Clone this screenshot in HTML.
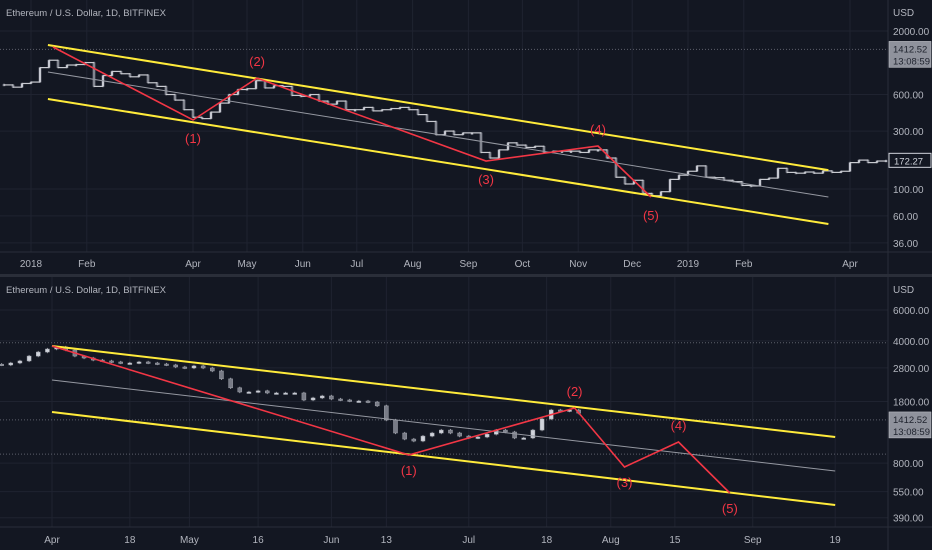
<!DOCTYPE html>
<html><head><meta charset="utf-8">
<style>
html,body{margin:0;padding:0;background:#131722;}
svg{display:block;}
text{font-family:"Liberation Sans",sans-serif;}
</style></head>
<body>
<svg id="chart" width="932" height="550" viewBox="0 0 932 550" xmlns="http://www.w3.org/2000/svg">
<rect x="0" y="0" width="932" height="550" fill="#131722"/>
<g id="top"></g>
<g id="bot"></g>
</svg>
<script>
// ---------- TOP PANEL DATA (2018-2019) ----------
const topStartDay = -15;           // days from 2018-01-01
const topStepDays = 5;
const topCloses = [720,690,740,760,1000,1150,1000,1050,1060,1100,700,860,930,890,840,870,750,700,600,540,450,390,380,430,510,600,660,670,780,680,710,700,590,580,600,530,500,530,450,450,470,440,450,460,470,450,410,360,280,300,280,290,290,200,180,210,240,230,220,225,200,205,205,205,200,210,210,180,125,110,118,92,88,95,120,130,140,155,125,124,118,115,107,106,120,123,148,137,135,138,135,141,137,140,165,173,165,170,172];
const topPriceTicks = [2000,600,300,100,60,36];
const topPriceLabels = ["2000.00","600.00","300.00","100.00","60.00","36.00"];
const topTimeDays = [0,31,90,120,151,181,212,243,273,304,334,365,396,455];
const topTimeLabels = ["2018","Feb","Apr","May","Jun","Jul","Aug","Sep","Oct","Nov","Dec","2019","Feb","Apr"];
const topUpper = [[9.4,1535],[443,143]];
const topLower = [[9.4,551],[443,51.5]];
const topMid = [[9.4,920],[443,86]];
const topWaveDays = [12.2,90,125.6,252.8,315,344.4];
const topWavePrices = [1479,370,820,170,226,86];
const topWaveLabels = ["(1)","(2)","(3)","(4)","(5)"];
const topLastPrice = 1412.52;
const topCurPrice = 172.27;

// ---------- BOTTOM PANEL DATA (projection) ----------
const botStartDay = -11;           // days from Apr 1
const botStepDays = 2;
const botCloses = [2911,2987,3069,3273,3451,3590,3687,3543,3273,3190,3105,3069,3028,2987,2987,3028,2987,2948,2911,2835,2798,2874,2798,2690,2425,2155,2040,2040,2070,2014,2014,2014,2014,1836,1886,1936,1860,1836,1811,1811,1787,1700,1411,1189,1098,1070,1142,1189,1236,1189,1142,1114,1128,1170,1236,1205,1114,1114,1236,1430,1610,1588,1610,1545];
const botPriceTicks = [6000,4000,2800,1800,800,550,390];
const botPriceLabels = ["6000.00","4000.00","2800.00","1800.00","800.00","550.00","390.00"];
const botTimeDays = [0,17,30,45,61,73,91,108,122,136,153,171];
const botTimeLabels = ["Apr","18","May","16","Jun","13","Jul","18","Aug","15","Sep","19"];
const botUpper = [[0,3735],[171,1128]];
const botLower = [[0,1567],[171,461]];
const botMid = [[0,2388],[171,721]];
const botWaveDays = [0,77.9,114.1,125,136.8,148];
const botWavePrices = [3735,890,1652,760,1056,540];
const botWaveLabels = ["(1)","(2)","(3)","(4)","(5)"];
const botDotted = [3900,1412.52,900];
const botLastPrice = 1412.52;

// ---------- helpers ----------
const NS = "http://www.w3.org/2000/svg";
function mk(parent, tag, attrs){
  const el = document.createElementNS(NS, tag);
  for (const k in attrs) el.setAttribute(k, attrs[k]);
  parent.appendChild(el);
  return el;
}
const PLOT_R = 888;

function drawPanel(g, cfg){
  const X = d => cfg.x0 + d * cfg.pxDay;
  const Y = p => cfg.yRef - (Math.log10(p) - Math.log10(cfg.pRef)) * cfg.pxDec;
  cfg.timeDays.forEach((d,i)=>{
    const l = mk(g,'line',{x1:X(d),x2:X(d),y1:cfg.top,y2:cfg.bottom,stroke:'#1f2330','stroke-width':1});
    
    
    const t = mk(g,'text',{x:X(d),y:cfg.timeY,fill:'#b2b5be','font-size':10,'text-anchor':'middle'});
    t.textContent = cfg.timeLabels[i];
    
    
  });
  cfg.priceTicks.forEach((p,i)=>{
    const l = mk(g,'line',{x1:0,x2:PLOT_R,y1:Y(p),y2:Y(p),stroke:'#1f2330','stroke-width':1});
    
    
    const t = mk(g,'text',{x:893,y:Y(p)+4,fill:'#b2b5be','font-size':10});
    t.textContent = cfg.priceLabels[i];
    
    
  });
  const u = mk(g,'text',{x:893,y:cfg.top+16,fill:'#b2b5be','font-size':10});
  u.textContent='USD';
  
  
  const ax = mk(g,'line',{x1:PLOT_R,x2:PLOT_R,y1:cfg.top,y2:cfg.bottom+24,stroke:'#2a2e39','stroke-width':1});
  
  
  const tx = mk(g,'line',{x1:0,x2:932,y1:cfg.bottom,y2:cfg.bottom,stroke:'#2a2e39','stroke-width':1});
  
  
  cfg.dotted.forEach(p=>{
    const l = mk(g,'line',{x1:0,x2:PLOT_R,y1:Y(p),y2:Y(p),stroke:'#5d606b','stroke-width':1,'stroke-dasharray':'1,2'});
    
    
  });
  let prev = cfg.closes[0];
  cfg.closes.forEach((c,i)=>{
    const d = cfg.startDay + i*cfg.stepDays;
    const o = i===0 ? c*1.01 : prev;
    const hi = Math.max(o,c)*1.015, lo = Math.min(o,c)*0.985;
    const cx = X(d);
    const w = mk(g,'line',{x1:cx,x2:cx,y1:Y(hi),y2:Y(lo),stroke:'#9598a1','stroke-width':1});
    
    
    const top = Math.min(Y(o),Y(c)), h = Math.max(1.5, Math.abs(Y(o)-Y(c)));
    const b = mk(g,'rect',{x:cx-cfg.candleW/2,y:top,width:cfg.candleW,height:h,fill:c>=o?'#d1d4dc':'#787b86',stroke:'#a3a6af','stroke-width':0.5});
    
    
    if (cfg.connect && i>0){
      const s = mk(g,'line',{x1:X(d-cfg.stepDays),x2:cx,y1:Y(o),y2:Y(o),stroke:'#c8cad0','stroke-width':1.2});
      
      
    }
    prev = c;
  });
  [[cfg.upper,'#ffeb3b',2,'channel-upper-line'],[cfg.lower,'#ffeb3b',2,'channel-lower-line'],[cfg.mid,'#9598a1',1,'channel-mid-line']].forEach(([pts,col,sw,nm])=>{
    const l = mk(g,'line',{x1:X(pts[0][0]),y1:Y(pts[0][1]),x2:X(pts[1][0]),y2:Y(pts[1][1]),stroke:col,'stroke-width':sw});
    
    
  });
  const pts = cfg.waveDays.map((d,i)=>X(d).toFixed(1)+','+Y(cfg.wavePrices[i]).toFixed(1)).join(' ');
  const wl = mk(g,'polyline',{points:pts,fill:'none',stroke:'#f23645','stroke-width':1.6});
  
  
  cfg.waveLabels.forEach((lab,i)=>{
    const d = cfg.waveDays[i+1], p = cfg.wavePrices[i+1];
    const isLow = i%2===0;
    const t = mk(g,'text',{x:X(d),y:Y(p)+(isLow?cfg.lowOff:-cfg.highOff),fill:'#f23645','font-size':13,'text-anchor':'middle'});
    t.textContent = lab;
    
    
  });
  const tt = mk(g,'text',{x:6,y:cfg.top+16,fill:'#b2b5be','font-size':9.5});
  tt.textContent='Ethereum / U.S. Dollar, 1D, BITFINEX';
  
  
  const by = Y(cfg.lastPrice);
  const bx = mk(g,'rect',{x:889,y:by-8,width:42,height:26,fill:'#8f929c',stroke:'#c8cad0','stroke-width':0.5});
  
  
  const t1 = mk(g,'text',{x:893,y:by+3,fill:'#1e222d','font-size':9.5}); t1.textContent=cfg.lastPrice.toFixed(2);
  
  
  const t2 = mk(g,'text',{x:893,y:by+15,fill:'#1e222d','font-size':9.5}); t2.textContent='13:08:59';
  
  
  if (cfg.curPrice){
    const cy = Y(cfg.curPrice);
    const r = mk(g,'rect',{x:889,y:cy-7,width:42,height:14,fill:'#131722',stroke:'#d1d4dc','stroke-width':1});
    
    
    const t = mk(g,'text',{x:894,y:cy+4,fill:'#d1d4dc','font-size':9.5}); t.textContent=cfg.curPrice.toFixed(2);
    
    
  }
}

drawPanel(document.getElementById('top'),{
  x0:31, pxDay:1.8, yRef:189, pRef:100, pxDec:121.4, top:0, bottom:252, timeY:267,
  timeDays:topTimeDays, timeLabels:topTimeLabels, priceTicks:topPriceTicks, priceLabels:topPriceLabels,
  dotted:[topLastPrice], closes:topCloses, startDay:topStartDay, stepDays:topStepDays, candleW:2, connect:true,
  upper:topUpper, lower:topLower, mid:topMid, waveDays:topWaveDays, wavePrices:topWavePrices,
  waveLabels:topWaveLabels, lowOff:23, highOff:12, lastPrice:topLastPrice, curPrice:topCurPrice
});
drawPanel(document.getElementById('bot'),{
  x0:52, pxDay:4.58, yRef:310, pRef:6000, pxDec:175, top:277, bottom:527, timeY:543,
  timeDays:botTimeDays, timeLabels:botTimeLabels, priceTicks:botPriceTicks, priceLabels:botPriceLabels,
  dotted:botDotted, closes:botCloses, startDay:botStartDay, stepDays:botStepDays, candleW:4, connect:false,
  upper:botUpper, lower:botLower, mid:botMid, waveDays:botWaveDays, wavePrices:botWavePrices,
  waveLabels:botWaveLabels, lowOff:20, highOff:12, lastPrice:botLastPrice, curPrice:null
});
const sep = mk(document.getElementById('chart'),'rect',{x:0,y:274,width:932,height:3,fill:'#2a2e39'});


</script>
</body></html>
